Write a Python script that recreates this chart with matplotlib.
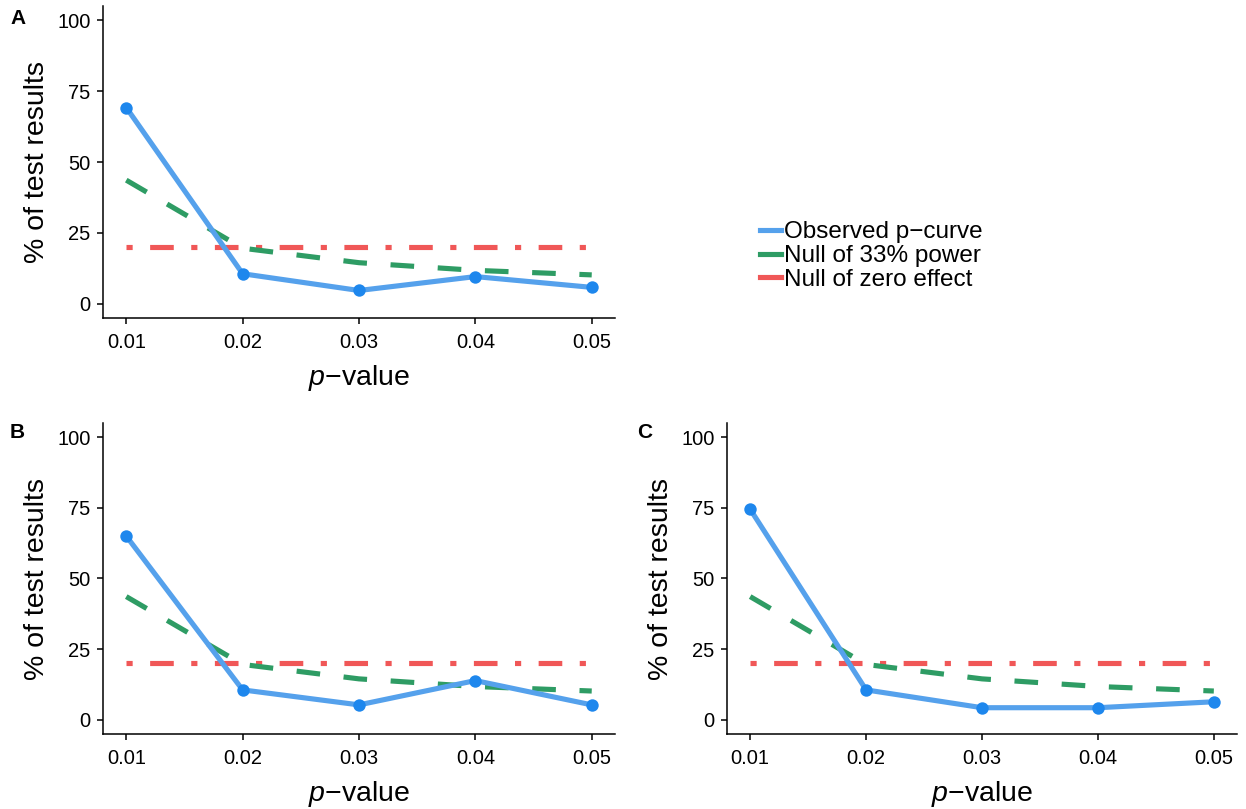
import matplotlib
matplotlib.use("Agg")
import matplotlib.pyplot as plt
from matplotlib.lines import Line2D

plt.rcParams['font.family'] = ['Liberation Sans', 'DejaVu Sans']
plt.rcParams['mathtext.fontset'] = 'custom'
plt.rcParams['mathtext.it'] = 'Liberation Sans:italic'
plt.rcParams['mathtext.rm'] = 'Liberation Sans'

# data
p_values = [0.01, 0.02, 0.03, 0.04, 0.05]
tick_labels = ['0.01', '0.02', '0.03', '0.04', '0.05']
null_33 = [43.6, 19.6, 14.5, 11.8, 10.2]
null_zero = [20, 20, 20, 20, 20]
observed_a = [69.2, 10.6, 4.7, 9.6, 5.8]
observed_b = [65.0, 10.6, 5.3, 13.9, 5.3]
observed_c = [74.5, 10.6, 4.3, 4.3, 6.4]
legend_labels = ['Observed p\u2212curve', 'Null of 33% power', 'Null of zero effect']

blue_line = '#55a1ec'
blue_pt = '#1e87ed'
green = '#2e9c64'
red = '#f05757'
LW = 3.7

W, H = 1246, 809
fig = plt.figure(figsize=(W / 100, H / 100), dpi=100)


def px_axes(left, right, top, bottom):
    return fig.add_axes([left / W, 1 - bottom / H, (right - left) / W, (bottom - top) / H])


def draw_panel(ax, observed):
    ax.plot(p_values, null_zero, color=red, lw=LW, dashes=(1.2, 3.4, 4.6, 3.4), zorder=2)
    ax.plot(p_values, null_33, color=green, lw=LW, dashes=(4.6, 4.6), zorder=2)
    ax.plot(p_values, observed, color=blue_line, lw=LW, zorder=3, solid_capstyle='butt')
    ax.scatter(p_values, observed, s=80, color=blue_pt, zorder=4, linewidths=0)
    ax.set_xlim(0.008, 0.052)
    ax.set_ylim(-5, 105)
    ax.set_xticks(p_values)
    ax.set_xticklabels(tick_labels)
    ax.set_yticks([0, 25, 50, 75, 100])
    for s in ['top', 'right']:
        ax.spines[s].set_visible(False)
    for s in ['left', 'bottom']:
        ax.spines[s].set_linewidth(1.1)
    ax.tick_params(axis='both', labelsize=14.5, length=4, width=1.1, colors='black', pad=5)
    ax.tick_params(axis='x', pad=7)
    ax.set_xlabel(r'$p$' + '\u2212value', fontsize=20.5, labelpad=8)
    ax.set_ylabel('% of test results', fontsize=20.5, labelpad=5)


ax_a = px_axes(103, 615, 6, 318)
ax_b = px_axes(103, 615, 423, 734)
ax_c = px_axes(727, 1237, 423, 734)

draw_panel(ax_a, observed_a)
draw_panel(ax_b, observed_b)
draw_panel(ax_c, observed_c)

fig.text(10 / W, 1 - 18 / H, 'A', fontsize=15, fontweight='bold', va='center')
fig.text(10 / W, 1 - 432 / H, 'B', fontsize=15, fontweight='bold', va='center')
fig.text(637 / W, 1 - 432 / H, 'C', fontsize=15, fontweight='bold', va='center')

handles = [Line2D([0], [0], color=blue_line, lw=LW),
           Line2D([0], [0], color=green, lw=LW),
           Line2D([0], [0], color=red, lw=LW)]
fig.legend(handles, legend_labels, loc='center left', bbox_to_anchor=(760 / W, 1 - 256 / H),
           frameon=False, fontsize=17.5, handlelength=0.85, handletextpad=0.15,
           labelspacing=0.08, borderaxespad=0, borderpad=0)

fig.savefig('out.png', dpi=100)
